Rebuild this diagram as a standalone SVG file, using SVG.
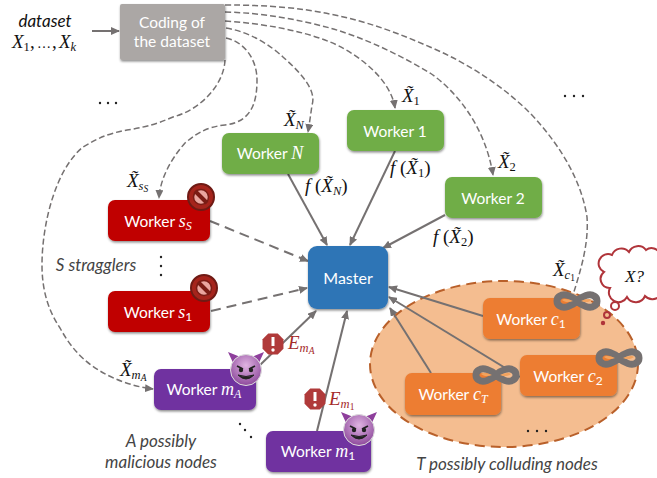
<svg xmlns="http://www.w3.org/2000/svg" width="657" height="478" viewBox="0 0 657 478">
<style>
text{font-family:"Lato","Open Sans",sans-serif}
.n{fill:#fff;font-size:15.500px;text-anchor:middle}
.v{font-family:"Liberation Serif",serif;font-style:italic;font-size:18px}
.u{font-size:12px}
.m{font-family:"Liberation Serif",serif;font-style:italic;fill:#111;font-size:19px}
.t{font-size:12.500px}
.tt{font-size:9.500px}
.up{font-style:normal}
.l{font-style:italic;fill:#444;font-size:17px;text-anchor:middle}
.s{stroke:#757171;stroke-width:2;fill:none}
.da{stroke:#757171;stroke-width:1.500;fill:none;stroke-dasharray:6 3}
.db{stroke:#757171;stroke-width:2;fill:none;stroke-dasharray:10 6}
.mask{fill:none;stroke:#757171;stroke-width:7}
</style>
<defs>
<filter id="sh" x="-10%" y="-10%" width="120%" height="125%"><feDropShadow dx="0.500" dy="1.500" stdDeviation="1" flood-color="#000" flood-opacity=".45"/></filter>
<marker id="a" markerWidth="9" markerHeight="8" refX="8" refY="4" orient="auto" markerUnits="userSpaceOnUse"><path d="M0 0L9 4L0 8z" fill="#757171"/></marker>
<radialGradient id="dv" cx=".5" cy=".35" r=".65"><stop offset="0" stop-color="#e0b4e2"/><stop offset="1" stop-color="#8e4a9c"/></radialGradient>
<g id="devil">
<path d="M-18-18L-11-3L-3-12zM18-18L11-3L3-12z" fill="#8e3f9c"/>
<circle r="15.500" fill="url(#dv)" stroke="#ddd" stroke-width="1"/>
<path d="M-9-4L-3-1M9-4L3-1" stroke="#222" stroke-width="1.800"/>
<circle cx="-5" cy="0" r="2.200" fill="#222"/><circle cx="5" cy="0" r="2.200" fill="#222"/>
<path d="M-8 5Q0 13 8 5Q0 8-8 5z" fill="#222" stroke="#222"/>
</g>
<g id="no">
<circle r="13" fill="#a5241c" stroke="#6f1a14" stroke-width="2"/>
<circle r="7.500" fill="#e9a59f" stroke="#7a1c15" stroke-width="1.500"/>
<path d="M-6-6L6 6" stroke="#7a1c15" stroke-width="4"/>
</g>
<g id="alert">
<path d="M-5-11H5L11-5V5L5 11H-5L-11 5V-5z" transform="scale(.95)" fill="#b03a3a"/>
<path d="M0-7V2" stroke="#fff" stroke-width="3"/><circle cy="6" r="1.700" fill="#fff"/>
</g>
<g id="mk">
<path class="mask" d="M0 0C-5-5-13-8-17-5C-21-3-21 3-17 5C-13 8-5 5 0 0C5-5 13-8 17-5C21-3 21 3 17 5C13 8 5 5 0 0z"/>
<path d="M-4 0C-8-2-13-3-15-1C-13 1-8 2-4 0zM4 0C8-2 13-3 15-1C13 1 8 2 4 0z" fill="#f2a35e"/>
</g>
</defs>

<g id="group-colluding">
<ellipse cx="504" cy="364" rx="134" ry="83" fill="#f4bd90" stroke="#b9602a" stroke-width="2" stroke-dasharray="10 6"/>
</g>

<g id="connectors">
<path class="s" d="M92 31H119" marker-end="url(#a)"/>
<path class="da" d="M225 5C270 5 300 8 330 14C370 22 400 34 430 47C470 64 505 88 530 113C565 150 582 185 587 217C589 245 580 272 573 295"/>
<path class="da" d="M225 12C265 13 300 20 330 28C365 38 400 55 430 73C455 90 485 125 493 175" marker-end="url(#a)"/>
<path class="da" d="M225 21C265 24 300 30 330 42C350 50 390 75 395 108" marker-end="url(#a)"/>
<path class="da" d="M226 28C250 32 270 45 283 57C300 72 317 90 312 105Q310 120 308 132" marker-end="url(#a)"/>
<path class="da" d="M226 38C245 42 257 60 257 80C257 105 250 122 225 125C205 127 195 135 185 143C170 160 160 180 159 198" marker-end="url(#a)"/>
<path class="da" d="M225 60C224 85 200 110 173 117C155 125 140 128 127 130C105 134 95 140 83 147C55 170 42 225 42 265C42 290 48 310 60 328C72 350 85 362 100 371C115 380 135 387 153 389" marker-end="url(#a)"/>
<path class="s" d="M288 174L327 245" marker-end="url(#a)"/>
<path class="s" d="M395 151L350 245" marker-end="url(#a)"/>
<path class="s" d="M445 215L383 248" marker-end="url(#a)"/>
<path class="db" d="M210 221L308 261" marker-end="url(#a)"/>
<path class="db" d="M211 311L307 288" marker-end="url(#a)"/>
<path class="s" d="M260 365L316 311" marker-end="url(#a)"/>
<path class="s" d="M317 431L347 311" marker-end="url(#a)"/>
<path class="s" d="M483 316L389 287" marker-end="url(#a)"/>
<path class="s" d="M520 377L389 297" marker-end="url(#a)"/>
<path class="s" d="M431 373L390 308" marker-end="url(#a)"/>
</g>

<g id="input">
<text x="45" y="27" text-anchor="middle" fill="#111" font-style="italic" font-size="17">dataset</text>
<text class="m" x="12" y="48">X<tspan class="t up" dy="3">1</tspan><tspan class="up" dy="-3" x="30">,</tspan><tspan class="up" x="37" font-size="14">…</tspan><tspan class="up" x="52">,</tspan><tspan x="59">X</tspan><tspan class="t" dy="3">k</tspan></text>
</g>

<g id="coding"><rect x="120" y="4" width="105" height="56" rx="2" fill="#aba7a5" filter="url(#sh)"/>
<text class="n" x="172" y="28">Coding of</text><text class="n" x="172" y="47">the dataset</text></g>

<g id="worker-n"><rect x="222" y="133" width="97" height="41" rx="7" fill="#70ad47" filter="url(#sh)"/><text class="n" x="270" y="159">Worker <tspan class="v">N</tspan></text></g>
<g id="worker-1"><rect x="347" y="110" width="97" height="41" rx="7" fill="#70ad47" filter="url(#sh)"/><text class="n" x="395" y="137">Worker 1</text></g>
<g id="worker-2"><rect x="445" y="177" width="97" height="41" rx="7" fill="#70ad47" filter="url(#sh)"/><text class="n" x="493" y="204">Worker 2</text></g>

<g id="worker-ss"><rect x="108" y="200" width="102" height="41" rx="7" fill="#c00000" filter="url(#sh)"/><text class="n" x="158" y="227">Worker <tspan class="v">s</tspan><tspan class="v u" dy="3">S</tspan></text><use href="#no" x="201" y="197"/></g>
<g id="worker-s1"><rect x="108" y="291" width="102" height="41" rx="7" fill="#c00000" filter="url(#sh)"/><text class="n" x="158" y="318">Worker <tspan class="v">s</tspan><tspan class="u" dy="3">1</tspan></text><use href="#no" x="204" y="288"/></g>

<g id="master"><rect x="308" y="246" width="80" height="63" rx="9" fill="#2e75b6" filter="url(#sh)"/><text class="n" x="348" y="284" style="font-size:16px">Master</text></g>

<g id="worker-ma"><rect x="154" y="369" width="102" height="41" rx="7" fill="#7030a0" filter="url(#sh)"/><text class="n" x="204" y="395">Worker <tspan class="v">m</tspan><tspan class="v u" dy="3">A</tspan></text><use href="#devil" x="246" y="370"/></g>
<g id="worker-m1"><rect x="266" y="431" width="105" height="41" rx="7" fill="#7030a0" filter="url(#sh)"/><text class="n" x="318" y="457">Worker <tspan class="v">m</tspan><tspan class="u" dy="3">1</tspan></text><use href="#devil" x="359" y="430"/></g>

<g id="worker-c1"><rect x="483" y="298" width="97" height="41" rx="7" fill="#ed7d31" filter="url(#sh)"/><text class="n" x="531" y="325">Worker <tspan class="v">c</tspan><tspan class="u" dy="3">1</tspan></text><use href="#mk" x="577" y="301"/></g>
<g id="worker-c2"><rect x="520" y="355" width="97" height="41" rx="7" fill="#ed7d31" filter="url(#sh)"/><text class="n" x="568" y="382">Worker <tspan class="v">c</tspan><tspan class="u" dy="3">2</tspan></text><use href="#mk" x="619" y="358"/></g>
<g id="worker-ct"><rect x="405" y="373" width="96" height="42" rx="7" fill="#ed7d31" filter="url(#sh)"/><text class="n" x="453" y="400">Worker <tspan class="v">c</tspan><tspan class="v u" dy="3">T</tspan></text><use href="#mk" x="496" y="375"/></g>

<g id="labels">
<text class="m" x="284" y="126">X̃<tspan class="t" dy="3">N</tspan></text>
<text class="m" x="402" y="102">X̃<tspan class="t up" dy="3">1</tspan></text>
<text class="m" x="498" y="168">X̃<tspan class="t up" dy="3">2</tspan></text>
<text class="m" x="127" y="187">X̃<tspan class="t" dy="3">s</tspan><tspan class="tt" dy="2">S</tspan></text>
<text class="m" x="120" y="376">X̃<tspan class="t" dy="3">m</tspan><tspan class="tt" dy="2">A</tspan></text>
<text class="m" x="553" y="276">X̃<tspan class="t" dy="3">c</tspan><tspan class="tt up" dy="2">1</tspan></text>
<text class="m" x="305" y="192">f<tspan class="up"> (</tspan>X̃<tspan class="t" dy="3">N</tspan><tspan class="up" dy="-3">)</tspan></text>
<text class="m" x="390" y="174">f<tspan class="up"> (</tspan>X̃<tspan class="t up" dy="3">1</tspan><tspan class="up" dy="-3">)</tspan></text>
<text class="m" x="433" y="243">f<tspan class="up"> (</tspan>X̃<tspan class="t up" dy="3">2</tspan><tspan class="up" dy="-3">)</tspan></text>
<text class="l" x="96" y="271">S stragglers</text>
<text class="l" x="161" y="447">A possibly</text>
<text class="l" x="161" y="468">malicious nodes</text>
<text class="l" x="507" y="470">T possibly colluding nodes</text>
<use href="#alert" x="273" y="344"/>
<text class="m" x="288" y="349" style="fill:#a52a2a">E<tspan class="t" dy="3">m</tspan><tspan class="tt" dy="2">A</tspan></text>
<use href="#alert" x="315" y="399"/>
<text class="m" x="329" y="405" style="fill:#a52a2a">E<tspan class="t" dy="3">m</tspan><tspan class="tt up" dy="2">1</tspan></text>
</g>

<g id="dots" fill="#222">
<circle cx="100" cy="103" r="1.200"/><circle cx="108" cy="103" r="1.200"/><circle cx="116" cy="103" r="1.200"/>
<circle cx="565" cy="96" r="1.200"/><circle cx="574" cy="96" r="1.200"/><circle cx="583" cy="96" r="1.200"/>
<circle cx="161" cy="257" r="1.200"/><circle cx="161" cy="266" r="1.200"/><circle cx="161" cy="275" r="1.200"/>
<circle cx="240" cy="424" r="1.200"/><circle cx="245" cy="430" r="1.200"/><circle cx="251" cy="437" r="1.200"/>
<circle cx="528" cy="431" r="1.200"/><circle cx="537" cy="431" r="1.200"/><circle cx="546" cy="431" r="1.200"/>
</g>

<g id="thought">
<path d="M610 288A9 9 0 0 1 604 272A9 9 0 0 1 612 255A10 10 0 0 1 629 252A10 10 0 0 1 646 250A9 9 0 0 1 660 254V282A10 10 0 0 1 645 296A10 10 0 0 1 627 297A9 9 0 0 1 610 288z" fill="#fff" stroke="#b0343a" stroke-width="2"/>
<text class="m" x="625" y="282" style="font-size:17px">X?</text>
<circle cx="615" cy="306" r="4" fill="#fff" stroke="#b0343a" stroke-width="2"/>
<circle cx="607" cy="315" r="3" fill="none" stroke="#b0343a" stroke-width="2"/>
<circle cx="603" cy="323" r="2.200" fill="#b0343a"/>
</g>
</svg>
